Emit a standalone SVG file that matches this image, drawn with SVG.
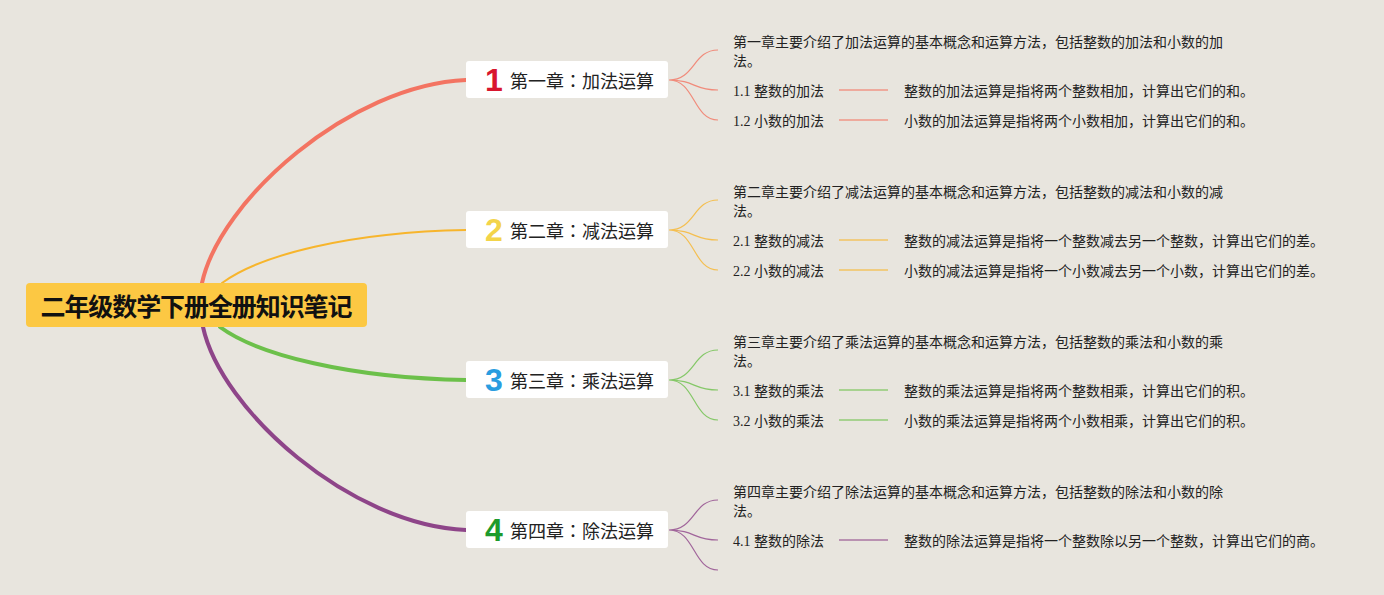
<svg xmlns="http://www.w3.org/2000/svg" width="1384" height="595" viewBox="0 0 1384 595">
<style>
.root-box{fill:#fcc843}
.root-t{font-family:"Noto Sans CJK SC","Noto Sans",sans-serif;font-size:25px;font-weight:bold;fill:#111;text-anchor:middle}
.ch-box{fill:#ffffff}
.ch-t{font-family:"Noto Sans CJK JP","Noto Sans CJK SC","Noto Sans",sans-serif;font-size:18px;fill:#222}
.ico{font-family:"Liberation Sans","Noto Sans",sans-serif;font-size:32px;font-weight:bold;text-anchor:middle}
.t{font-family:"Liberation Serif","Noto Sans CJK SC",serif;font-size:14px;fill:#222}
.main{fill:none;stroke-linecap:round}
.sub{fill:none;stroke-width:1.2;stroke-opacity:0.8}
.row{stroke-width:1.6;stroke-opacity:0.7}
.c1{stroke:#f37462}
.c2{stroke:#f7b52c}
.c3{stroke:#6cc04a}
.c4{stroke:#8e4589}
</style>
<rect width="1384" height="595" fill="#e8e5de"/>
<g id="connectors">
<path class="main c1" stroke-width="4" d="M202 283 C220 200 350 85 466 80"/>
<path class="main c2" stroke-width="2" d="M222 283 C260 255 350 232 466 230"/>
<path class="main c3" stroke-width="4" d="M220 327 C258 355 350 378 466 380"/>
<path class="main c4" stroke-width="4" d="M203 327 C221 410 350 525 466 530"/>
<path class="sub c1" d="M669 80 C695 80 693 50 718 50 M669 80 C695 80 693 90 718 90 M669 80 C695 80 693 120 718 120"/>
<path class="sub c2" d="M669 230 C695 230 693 200 718 200 M669 230 C695 230 693 240 718 240 M669 230 C695 230 693 270 718 270"/>
<path class="sub c3" d="M669 380 C695 380 693 350 718 350 M669 380 C695 380 693 390 718 390 M669 380 C695 380 693 420 718 420"/>
<path class="sub c4" d="M669 530 C695 530 693 500 718 500 M669 530 C695 530 693 540 718 540 M669 530 C695 530 693 570 718 570"/>
<path class="row c1" d="M839 90 H888 M839 120 H888"/>
<path class="row c2" d="M839 240 H888 M839 270 H888"/>
<path class="row c3" d="M839 390 H888 M839 420 H888"/>
<path class="row c4" d="M839 540 H888"/>
</g>
<g id="root">
<rect class="root-box" x="26" y="283" width="341" height="44" rx="4"/>
<text class="root-t" x="196.5" y="316" textLength="312" lengthAdjust="spacing">二年级数学下册全册知识笔记</text>
</g>
<g id="ch1">
<rect class="ch-box" x="466" y="61" width="202" height="37" rx="3"/>
<text class="ico" x="494" y="91" fill="#d8162e">1</text>
<text class="ch-t" x="510" y="88">第一章：加法运算</text>
</g>
<g id="ch2">
<rect class="ch-box" x="466" y="211" width="202" height="37" rx="3"/>
<text class="ico" x="494" y="241" fill="#f3d44a">2</text>
<text class="ch-t" x="510" y="238">第二章：减法运算</text>
</g>
<g id="ch3">
<rect class="ch-box" x="466" y="361" width="202" height="37" rx="3"/>
<text class="ico" x="494" y="391" fill="#2a9de0">3</text>
<text class="ch-t" x="510" y="388">第三章：乘法运算</text>
</g>
<g id="ch4">
<rect class="ch-box" x="466" y="511" width="202" height="37" rx="3"/>
<text class="ico" x="494" y="541" fill="#1d9a2c">4</text>
<text class="ch-t" x="510" y="538">第四章：除法运算</text>
</g>
<g id="ch1-intro"><text class="t" x="733" y="47">第一章主要介绍了加法运算的基本概念和运算方法，包括整数的加法和小数的加</text><text class="t" x="733" y="66">法。</text></g>
<g id="s1-1"><text class="t" x="733" y="96">1.1 整数的加法</text></g>
<g id="s1-1d"><text class="t" x="904" y="96">整数的加法运算是指将两个整数相加，计算出它们的和。</text></g>
<g id="s1-2"><text class="t" x="733" y="126">1.2 小数的加法</text></g>
<g id="s1-2d"><text class="t" x="904" y="126">小数的加法运算是指将两个小数相加，计算出它们的和。</text></g>
<g id="ch2-intro"><text class="t" x="733" y="197">第二章主要介绍了减法运算的基本概念和运算方法，包括整数的减法和小数的减</text><text class="t" x="733" y="216">法。</text></g>
<g id="s2-1"><text class="t" x="733" y="246">2.1 整数的减法</text></g>
<g id="s2-1d"><text class="t" x="904" y="246">整数的减法运算是指将一个整数减去另一个整数，计算出它们的差。</text></g>
<g id="s2-2"><text class="t" x="733" y="276">2.2 小数的减法</text></g>
<g id="s2-2d"><text class="t" x="904" y="276">小数的减法运算是指将一个小数减去另一个小数，计算出它们的差。</text></g>
<g id="ch3-intro"><text class="t" x="733" y="347">第三章主要介绍了乘法运算的基本概念和运算方法，包括整数的乘法和小数的乘</text><text class="t" x="733" y="366">法。</text></g>
<g id="s3-1"><text class="t" x="733" y="396">3.1 整数的乘法</text></g>
<g id="s3-1d"><text class="t" x="904" y="396">整数的乘法运算是指将两个整数相乘，计算出它们的积。</text></g>
<g id="s3-2"><text class="t" x="733" y="426">3.2 小数的乘法</text></g>
<g id="s3-2d"><text class="t" x="904" y="426">小数的乘法运算是指将两个小数相乘，计算出它们的积。</text></g>
<g id="ch4-intro"><text class="t" x="733" y="497">第四章主要介绍了除法运算的基本概念和运算方法，包括整数的除法和小数的除</text><text class="t" x="733" y="516">法。</text></g>
<g id="s4-1"><text class="t" x="733" y="546">4.1 整数的除法</text></g>
<g id="s4-1d"><text class="t" x="904" y="546">整数的除法运算是指将一个整数除以另一个整数，计算出它们的商。</text></g>
</svg>
